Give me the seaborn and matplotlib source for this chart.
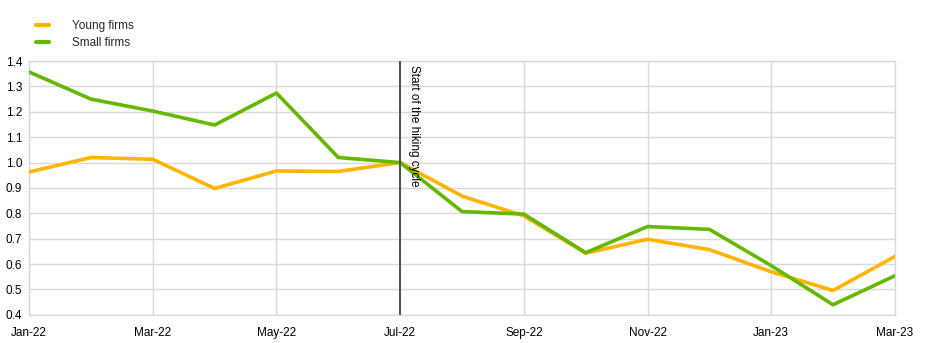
import matplotlib
matplotlib.use("Agg")
import matplotlib.pyplot as plt
import seaborn as sns
import pandas as pd

months = ["Jan-22", "Feb-22", "Mar-22", "Apr-22", "May-22", "Jun-22", "Jul-22", "Aug-22",
          "Sep-22", "Oct-22", "Nov-22", "Dec-22", "Jan-23", "Feb-23", "Mar-23"]
young_firms = [0.963, 1.02, 1.013, 0.898, 0.967, 0.965, 1.00, 0.868,
               0.79, 0.643, 0.698, 0.657, 0.57, 0.496, 0.63]
small_firms = [1.357, 1.25, 1.203, 1.148, 1.274, 1.02, 1.00, 0.807,
               0.797, 0.645, 0.748, 0.737, 0.594, 0.44, 0.554]
series_names = ["Young firms", "Small firms"]
hiking_start = "Jul-22"
hiking_label = "Start of the hiking cycle"

df = pd.DataFrame({
    "idx": list(range(len(months))) * 2,
    "value": young_firms + small_firms,
    "series": [series_names[0]] * len(months) + [series_names[1]] * len(months),
})

sns.set_theme(style="white")
plt.rcParams["font.family"] = ["Liberation Sans", "DejaVu Sans"]

fig = plt.figure(figsize=(9.4, 3.43), dpi=100)
ax = fig.add_axes([0.031, 0.082, 0.921, 0.740])

palette = {"Young firms": "#FFB400", "Small firms": "#65B800"}
sns.lineplot(data=df, x="idx", y="value", hue="series", palette=palette,
             linewidth=2.6, ax=ax, legend=False, zorder=3)

ax.set_xlim(0, len(months) - 1)
ax.set_ylim(0.4, 1.4)
ax.set_xticks(range(0, len(months), 2))
ax.set_xticklabels(months[::2])
ax.set_yticks([0.4 + 0.1 * i for i in range(11)])
ax.set_yticklabels([f"{0.4 + 0.1 * i:.1f}" for i in range(11)])
ax.tick_params(axis="both", labelsize=8.5, colors="#000000", length=0)
ax.tick_params(axis="x", pad=9)
ax.tick_params(axis="y", pad=5)
ax.set_xlabel("")
ax.set_ylabel("")

ax.grid(True, color="#d9d9d9", linewidth=1.0, zorder=0)
for s in ax.spines.values():
    s.set_color("#d9d9d9")
    s.set_linewidth(1.0)

xv = months.index(hiking_start)
ax.axvline(xv, color="#505050", linewidth=1.4, zorder=4)
ax.text(xv + 0.12, 1.385, hiking_label, rotation=-90, ha="left", va="top",
        fontsize=8.5, color="#000000", zorder=5)

handles = [plt.Line2D([], [], color=palette[n], linewidth=3) for n in series_names]
fig.legend(handles, series_names, loc="upper left", bbox_to_anchor=(0.033, 0.955),
           frameon=False, fontsize=8.5, handlelength=1.1, handletextpad=2.0,
           labelspacing=0.45, borderaxespad=0)

fig.savefig("out.png", dpi=100)
